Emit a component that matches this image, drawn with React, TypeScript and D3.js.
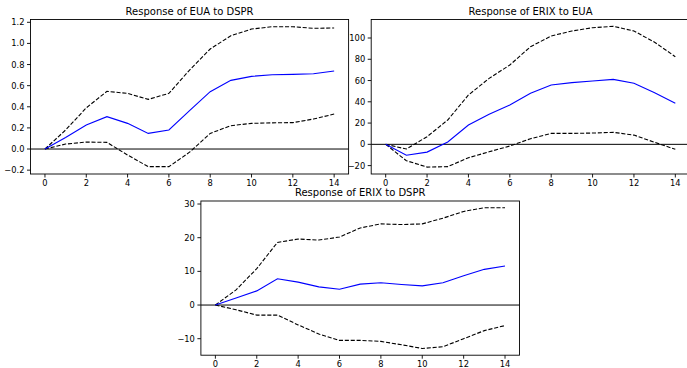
import React from 'react';
import * as d3 from 'd3';

// ---- data ----
const horizons = [0, 1, 2, 3, 4, 5, 6, 7, 8, 9, 10, 11, 12, 13, 14];
const xTicks = [0, 2, 4, 6, 8, 10, 12, 14];

const euaDsprMean = [0, 0.11, 0.227, 0.306, 0.243, 0.148, 0.18, 0.363, 0.543, 0.65, 0.688, 0.704, 0.707, 0.713, 0.739];
const euaDsprUpper = [0, 0.18, 0.39, 0.546, 0.527, 0.47, 0.527, 0.748, 0.947, 1.073, 1.136, 1.158, 1.158, 1.143, 1.146];
const euaDsprLower = [0, 0.047, 0.066, 0.063, -0.057, -0.167, -0.167, -0.03, 0.148, 0.221, 0.243, 0.248, 0.25, 0.284, 0.331];
const euaDsprYTicks = [-0.2, 0, 0.2, 0.4, 0.6, 0.8, 1.0, 1.2];

const erixEuaMean = [0, -10.3, -7.3, 2.2, 18.2, 28.2, 37, 48, 55.8, 58, 59.5, 61.1, 57.4, 48.5, 38.6];
const erixEuaUpper = [0, -4.4, 7.2, 22.9, 46.4, 62, 74.6, 91.8, 101.9, 106.6, 109.7, 111, 106.6, 96, 82.4];
const erixEuaLower = [0, -15.4, -21.4, -21, -12.6, -7, -1.6, 5.3, 10.3, 10.3, 10.6, 11.3, 8.7, 1.9, -4.7];
const erixEuaYTicks = [-20, 0, 20, 40, 60, 80, 100];

const erixDsprMean = [0, 2.1, 4.2, 7.8, 6.8, 5.4, 4.7, 6.2, 6.6, 6.1, 5.7, 6.6, 8.7, 10.6, 11.6];
const erixDsprUpper = [0, 4.5, 10.8, 18.6, 19.6, 19.3, 20.2, 22.9, 24.1, 23.9, 24.1, 25.8, 27.8, 28.9, 28.9];
const erixDsprLower = [0, -1.4, -3, -3, -5.9, -8.6, -10.5, -10.5, -10.8, -11.8, -12.9, -12.4, -10, -7.6, -6.1];
const erixDsprYTicks = [-10, 0, 10, 20, 30];

const titles = ['Response of EUA to DSPR', 'Response of ERIX to EUA', 'Response of ERIX to DSPR'];

// ---- layout ----
const W = 687;
const H = 368;
const FONT = 'DejaVu Sans, sans-serif';
const TICK_FS = 8.3;
const TITLE_FS = 10;

interface PanelSpec {
  title: string;
  left: number; right: number; top: number; bottom: number;
  yDomain: [number, number];
  yTicks: number[];
  yFmt: (v: number) => string;
  mean: number[]; upper: number[]; lower: number[];
  labelGap: number;
}

const minusFmt = (f: (v: number) => string) => (v: number) => f(v).replace('-', '\u2212');

const panels: PanelSpec[] = [
  {
    title: titles[0], left: 30.5, right: 348.6, top: 19.5, bottom: 174,
    yDomain: [-0.2365, 1.2265], yTicks: euaDsprYTicks, yFmt: minusFmt(d3.format('.1f')),
    mean: euaDsprMean, upper: euaDsprUpper, lower: euaDsprLower, labelGap: 6,
  },
  {
    title: titles[1], left: 371.2, right: 689.8, top: 19.5, bottom: 174,
    yDomain: [-27.9, 117.4], yTicks: erixEuaYTicks, yFmt: minusFmt(d3.format('d')),
    mean: erixEuaMean, upper: erixEuaUpper, lower: erixEuaLower, labelGap: 6,
  },
  {
    title: titles[2], left: 200.9, right: 519.5, top: 201, bottom: 355.2,
    yDomain: [-14.9, 30.9], yTicks: erixDsprYTicks, yFmt: minusFmt(d3.format('d')),
    mean: erixDsprMean, upper: erixDsprUpper, lower: erixDsprLower, labelGap: 6,
  },
];

function Panel({ p }: { p: PanelSpec }) {
  const x = d3.scaleLinear().domain([-0.7, 14.7]).range([p.left, p.right]);
  const y = d3.scaleLinear().domain(p.yDomain).range([p.bottom, p.top]);
  const line = (vals: number[]) =>
    d3.line<number>().x((_, i) => x(horizons[i])).y((v) => y(v))(vals) || '';
  const tickLen = 3.5;
  return (
    <g>
      <text x={(p.left + p.right) / 2} y={p.top - 5} textAnchor="middle" fontFamily={FONT} fontSize={TITLE_FS} fill="#000">
        {p.title}
      </text>
      <line x1={p.left} x2={p.right} y1={y(0)} y2={y(0)} stroke="#000" strokeWidth={1} />
      <path d={line(p.upper)} fill="none" stroke="#000" strokeWidth={1.1} strokeDasharray="4.1 1.8" />
      <path d={line(p.lower)} fill="none" stroke="#000" strokeWidth={1.1} strokeDasharray="4.1 1.8" />
      <path d={line(p.mean)} fill="none" stroke="#0000ff" strokeWidth={1.1} />
      <rect x={p.left} y={p.top} width={p.right - p.left} height={p.bottom - p.top} fill="none" stroke="#000" strokeWidth={0.9} />
      {xTicks.map((t) => (
        <g key={'x' + t}>
          <line x1={x(t)} x2={x(t)} y1={p.bottom} y2={p.bottom + tickLen} stroke="#000" strokeWidth={0.9} />
          <text x={x(t)} y={p.bottom + tickLen + 8.5} textAnchor="middle" fontFamily={FONT} fontSize={TICK_FS} fill="#000">
            {t}
          </text>
        </g>
      ))}
      {p.yTicks.map((t) => (
        <g key={'y' + t}>
          <line x1={p.left - tickLen} x2={p.left} y1={y(t)} y2={y(t)} stroke="#000" strokeWidth={0.9} />
          <text x={p.left - p.labelGap} y={y(t) + 3} textAnchor="end" fontFamily={FONT} fontSize={TICK_FS} fill="#000">
            {p.yFmt(t)}
          </text>
        </g>
      ))}
    </g>
  );
}

export default function App() {
  return (
    <svg width={W} height={H} viewBox={`0 0 ${W} ${H}`} style={{ position: 'absolute', left: 0, top: 0, background: '#fff' }}>
      <rect x={0} y={0} width={W} height={H} fill="#fff" />
      {panels.map((p, i) => (
        <Panel key={i} p={p} />
      ))}
    </svg>
  );
}
